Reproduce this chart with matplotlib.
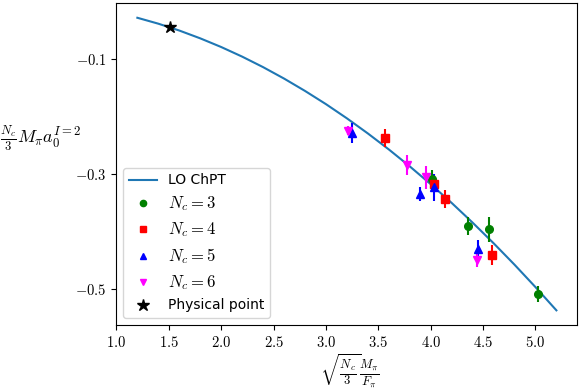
import matplotlib
matplotlib.use("Agg")
import matplotlib.pyplot as plt
from matplotlib.lines import Line2D
from matplotlib.ticker import FuncFormatter

plt.rcParams["mathtext.fontset"] = "cm"

# LO ChPT curve
curve_x = [1.2, 1.4, 1.6, 1.8, 2.0, 2.2, 2.4, 2.6, 2.8, 3.0, 3.2,
           3.4, 3.6, 3.8, 4.0, 4.2, 4.4, 4.6, 4.8, 5.0, 5.2]
curve_y = [-0.0287, -0.0390, -0.0509, -0.0645, -0.0796, -0.0963, -0.1146,
           -0.1345, -0.1560, -0.1790, -0.2037, -0.2300, -0.2578, -0.2873,
           -0.3183, -0.3509, -0.3852, -0.4210, -0.4584, -0.4974, -0.5379]

# lattice points per N_c: x, y, yerr
nc3_x = [4.015, 4.358, 4.558, 5.029]
nc3_y = [-0.310, -0.391, -0.397, -0.509]
nc3_err = [0.017, 0.016, 0.022, 0.014]

nc4_x = [3.565, 4.035, 4.133, 4.581]
nc4_y = [-0.238, -0.318, -0.344, -0.442]
nc4_err = [0.015, 0.013, 0.016, 0.017]

nc5_x = [3.248, 3.898, 4.031, 4.450]
nc5_y = [-0.229, -0.335, -0.324, -0.432]
nc5_err = [0.017, 0.012, 0.023, 0.017]

nc6_x = [3.206, 3.771, 3.958, 4.444]
nc6_y = [-0.225, -0.285, -0.306, -0.450]
nc6_err = [0.008, 0.017, 0.020, 0.012]

phys_x = [1.51]
phys_y = [-0.045]

fig, ax = plt.subplots(figsize=(5.82, 3.92), dpi=100)
fig.subplots_adjust(left=0.2, right=0.992, top=0.992, bottom=0.171)

line, = ax.plot(curve_x, curve_y, color="C0", lw=1.5, label="LO ChPT")
handles = [line]

series = [
    (nc3_x, nc3_y, nc3_err, "green", "o", r"$N_c=3$"),
    (nc4_x, nc4_y, nc4_err, "red", "s", r"$N_c=4$"),
    (nc5_x, nc5_y, nc5_err, "blue", "^", r"$N_c=5$"),
    (nc6_x, nc6_y, nc6_err, "magenta", "v", r"$N_c=6$"),
]
for xs, ys, es, col, mk, lab in series:
    ax.errorbar(xs, ys, yerr=es, fmt=mk, color=col, ms=5.5, elinewidth=1.5,
                capsize=0)
    handles.append(Line2D([], [], color=col, marker=mk, ls="none", ms=4.5,
                          label=lab))

star, = ax.plot(phys_x, phys_y, "k*", ms=9, ls="none", label="Physical point")
handles.append(star)

ax.set_yticks([-0.1, -0.3, -0.5])
ax.set_xticks([1.0, 1.5, 2.0, 2.5, 3.0, 3.5, 4.0, 4.5, 5.0])
ax.xaxis.set_major_formatter(FuncFormatter(lambda v, p: f"${v:.1f}$"))
ax.yaxis.set_major_formatter(FuncFormatter(lambda v, p: f"${v:.1f}$"))
ax.tick_params(labelsize=10.5)

ax.set_xlabel(r"$\sqrt{\frac{N_c}{3}}\frac{M_\pi}{F_\pi}$", fontsize=13,
              va="bottom")
ax.xaxis.set_label_coords(0.6, 0.004, transform=fig.transFigure)
ax.set_ylabel(r"$\frac{N_c}{3}M_\pi a_0^{I=2}$", fontsize=13, rotation=0,
              ha="left", va="center")
ax.yaxis.set_label_coords(0.0, 0.648, transform=fig.transFigure)

leg = ax.legend(handles=handles, loc="lower left", fontsize=10)
for txt in leg.get_texts():
    if txt.get_text().startswith("$"):
        txt.set_fontsize(12)

fig.savefig("out.png")
